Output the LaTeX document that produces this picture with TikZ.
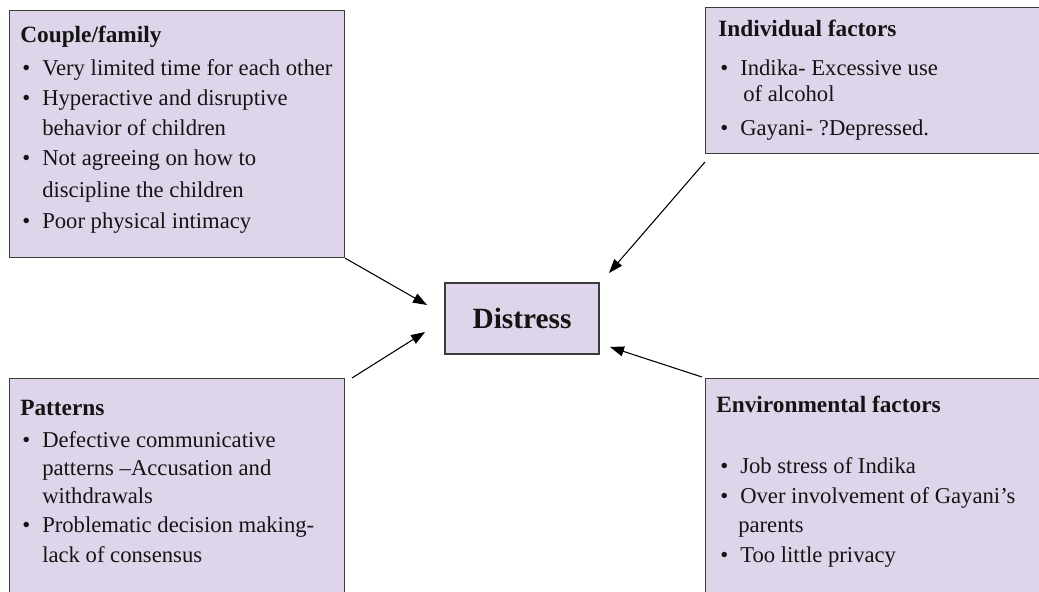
\documentclass[tikz,border=0pt]{standalone}
\usepackage{fontspec}
\setmainfont{Liberation Serif}
\usetikzlibrary{arrows.meta}
\definecolor{boxfill}{RGB}{223,213,235}
\definecolor{boxline}{RGB}{60,60,60}
\definecolor{inkcol}{RGB}{20,20,20}
\newcommand{\bul}{\makebox[16.5pt][l]{\hspace{1.5pt}\textbullet}}
\begin{document}
\begin{tikzpicture}[x=0.75pt,y=-0.75pt,
  box/.style={draw=boxline, fill=boxfill, line width=0.9pt, rectangle, inner sep=0pt, anchor=north west},
  hdr/.style={anchor=base west, inner sep=0pt, text=inkcol, font=\fontsize{17.5pt}{21pt}\selectfont\bfseries},
  txt/.style={anchor=base west, inner sep=0pt, text=inkcol, font=\fontsize{17pt}{21pt}\selectfont},
  conn/.style={draw=black, line width=0.8pt, -{Triangle[length=10.5pt,width=7.5pt]}}]
\useasboundingbox (0,0) rectangle (1039,592);
\clip (0,0) rectangle (1039,592);
% boxes
\node[box, minimum width=335*0.75pt, minimum height=247*0.75pt] (couple) at (9,10) {};
\node[box, minimum width=345*0.75pt, minimum height=146*0.75pt] (indiv) at (705,7) {};
\node[box, minimum width=335*0.75pt, minimum height=230*0.75pt] (patt) at (9,378) {};
\node[box, minimum width=345*0.75pt, minimum height=230*0.75pt] (env) at (705,378) {};
\node[box, minimum width=154*0.75pt, minimum height=71*0.75pt, anchor=center,
      font=\fontsize{22pt}{26pt}\selectfont\bfseries, text=inkcol] (dist) at (522,318.5) {Distress};
% couple/family
\node[hdr] (c0) at (20,43) {Couple/family};
\node[txt] (c1) at (20,75) {\bul Very limited time for each other};
\node[txt] (c2) at (20,105) {\bul Hyperactive and disruptive};
\node[txt] (c3) at (42,135) {behavior of children};
\node[txt] (c4) at (20,166) {\bul Not agreeing on how to};
\node[txt] (c5) at (42,197) {discipline the children};
\node[txt] (c6) at (20,228) {\bul Poor physical intimacy};
% individual
\node[hdr] (i0) at (718,37) {Individual factors};
\node[txt] (i1) at (718,75) {\bul Indika- Excessive use};
\node[txt] (i2) at (743,102) {of alcohol};
\node[txt] (i3) at (718,135) {\bul Gayani- ?Depressed.};
% patterns
\node[hdr] (p0) at (20,415) {Patterns};
\node[txt] (p1) at (20,447) {\bul Defective communicative};
\node[txt] (p2) at (42,475) {patterns --Accusation and};
\node[txt] (p3) at (42,503) {withdrawals};
\node[txt] (p4) at (20,532) {\bul Problematic decision making-};
\node[txt] (p5) at (42,562) {lack of consensus};
% environmental
\node[hdr] (e0) at (716,412) {Environmental factors};
\node[txt] (e1) at (718,473) {\bul Job stress of Indika};
\node[txt] (e2) at (718,503) {\bul Over involvement of Gayani’s};
\node[txt] (e3) at (738,532) {parents};
\node[txt] (e4) at (718,562) {\bul Too little privacy};
% connector ends
\coordinate (tc) at (427,305);
\coordinate (sp) at (352,378);
\coordinate (tp) at (425,332);
\coordinate (si) at (705,162);
\coordinate (ti) at (609,273);
\coordinate (se) at (702,377);
\coordinate (te) at (610,347);
\draw[conn] (couple.south east) -- (tc);
\draw[conn] (sp) -- (tp);
\draw[conn] (si) -- (ti);
\draw[conn] (se) -- (te);
\end{tikzpicture}
\end{document}
